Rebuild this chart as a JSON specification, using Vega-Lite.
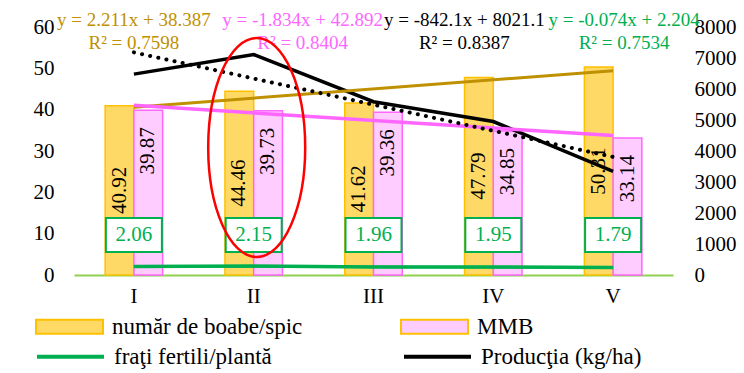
{
  "$schema": "https://vega.github.io/schema/vega-lite/v6.json",
  "width": 599,
  "height": 248,
  "autosize": "none",
  "padding": {"left": 74, "top": 27, "right": 71, "bottom": 98},
  "background": "white",
  "config": {
    "font": "Liberation Serif",
    "view": {"stroke": null},
    "mark": {"font": "Liberation Serif"},
    "text": {"font": "Liberation Serif"},
    "legend": {"labelFont": "Liberation Serif"},
    "axis": {"grid": false, "ticks": false, "title": null, "labelFont": "Liberation Serif", "labelFontSize": 21, "labelColor": "#000000"}
  },
  "datasets": {
    "bare": [
      {"perioada": "I", "nr": 1, "serie": "număr de boabe/spic", "valoare": 40.92},
      {"perioada": "I", "nr": 1, "serie": "MMB", "valoare": 39.87},
      {"perioada": "II", "nr": 2, "serie": "număr de boabe/spic", "valoare": 44.46},
      {"perioada": "II", "nr": 2, "serie": "MMB", "valoare": 39.73},
      {"perioada": "III", "nr": 3, "serie": "număr de boabe/spic", "valoare": 41.62},
      {"perioada": "III", "nr": 3, "serie": "MMB", "valoare": 39.36},
      {"perioada": "IV", "nr": 4, "serie": "număr de boabe/spic", "valoare": 47.79},
      {"perioada": "IV", "nr": 4, "serie": "MMB", "valoare": 34.85},
      {"perioada": "V", "nr": 5, "serie": "număr de boabe/spic", "valoare": 50.31},
      {"perioada": "V", "nr": 5, "serie": "MMB", "valoare": 33.14}
    ],
    "linii": [
      {"perioada": "I", "nr": 1, "frati": 2.06, "productie": 6480},
      {"perioada": "II", "nr": 2, "frati": 2.15, "productie": 7110},
      {"perioada": "III", "nr": 3, "frati": 1.96, "productie": 5590},
      {"perioada": "IV", "nr": 4, "frati": 1.95, "productie": 4950},
      {"perioada": "V", "nr": 5, "frati": 1.79, "productie": 3345}
    ],
    "ecuatii": [
      {"serie": "boabe", "eticheta": "y = 2.211x + 38.387\nR² = 0.7598"},
      {"serie": "MMB", "eticheta": "y = -1.834x + 42.892\nR² = 0.8404"},
      {"serie": "productie", "eticheta": "y = -842.1x + 8021.1\nR² = 0.8387"},
      {"serie": "frati", "eticheta": "y = -0.074x + 2.204\nR² = 0.7534"}
    ]
  },
  "resolve": {"scale": {"x": "independent", "y": "independent"}},
  "layer": [
    {
      "data": {"name": "bare"},
      "mark": {"type": "bar", "strokeWidth": 1.5},
      "encoding": {
        "x": {"field": "perioada", "type": "nominal",
              "scale": {"domain": ["I", "II", "III", "IV", "V"], "paddingInner": 0.52, "paddingOuter": 0.26},
              "axis": {"labelAngle": 0, "domainColor": "#92D050", "domainWidth": 2, "labelPadding": 10}},
        "xOffset": {"field": "serie", "type": "nominal", "scale": {"domain": ["număr de boabe/spic", "MMB"]}},
        "y": {"field": "valoare", "type": "quantitative",
              "scale": {"domain": [0, 60], "nice": false},
              "axis": {"orient": "left", "domain": false, "values": [0, 10, 20, 30, 40, 50, 60], "labelPadding": 20}},
        "fill": {"field": "serie", "type": "nominal",
                 "scale": {"domain": ["număr de boabe/spic", "MMB"], "range": ["#FFD966", "#FFCCFF"]},
                 "legend": {"title": null, "orient": "none", "legendX": -39, "legendY": 265, "direction": "horizontal", "columns": 2, "columnPadding": 94,
                            "symbolType": "M-1,-0.21H1V0.21H-1Z", "symbolSize": 4489, "symbolStrokeWidth": 2, "symbolOpacity": 1,
                            "labelFont": "Liberation Serif", "labelFontSize": 23, "labelColor": "#000000", "labelOffset": 8, "labelLimit": 400, "padding": 0,
                            "encode": {"symbols": {"update": {"stroke": {"signal": "datum.value === 'MMB' ? '#FF66FF' : '#FFC000'"}, "fillOpacity": {"value": 1}}}}}},
        "stroke": {"condition": {"test": "datum.serie === 'MMB'", "value": "#FF66FF"}, "value": "#FFC000"}
      }
    },
    {
      "data": {"name": "bare"},
      "transform": [{"filter": "datum.serie === 'număr de boabe/spic'"}],
      "mark": {"type": "text", "font": "Liberation Serif", "angle": 270, "align": "center", "baseline": "middle", "dy": -14.4, "fontSize": 21, "color": "#000000"},
      "encoding": {
        "x": {"field": "perioada", "type": "nominal", "scale": {"domain": ["I", "II", "III", "IV", "V"]}, "axis": null},
        "y": {"field": "valoare", "type": "quantitative", "scale": {"domain": [0, 120], "nice": false}, "axis": null},
        "text": {"field": "valoare", "type": "quantitative", "format": ".2f"}
      }
    },
    {
      "data": {"name": "bare"},
      "transform": [{"filter": "datum.serie === 'MMB'"}],
      "mark": {"type": "text", "font": "Liberation Serif", "angle": 270, "align": "right", "baseline": "middle", "dx": -17, "dy": 14.4, "fontSize": 21, "color": "#000000"},
      "encoding": {
        "x": {"field": "perioada", "type": "nominal", "scale": {"domain": ["I", "II", "III", "IV", "V"]}, "axis": null},
        "y": {"field": "valoare", "type": "quantitative", "scale": {"domain": [0, 60], "nice": false}, "axis": null},
        "text": {"field": "valoare", "type": "quantitative", "format": ".2f"}
      }
    },
    {
      "data": {"name": "linii"},
      "mark": {"type": "line", "strokeWidth": 3.5},
      "encoding": {
        "x": {"field": "perioada", "type": "nominal", "scale": {"domain": ["I", "II", "III", "IV", "V"]}, "axis": null},
        "y": {"field": "frati", "type": "quantitative", "scale": {"domain": [0, 60], "nice": false}, "axis": null},
        "stroke": {"datum": "fraţi fertili/plantă", "type": "nominal",
                   "scale": {"domain": ["fraţi fertili/plantă", "Producţia (kg/ha)"], "range": ["#00B050", "#000000"]},
                   "legend": {"title": null, "orient": "none", "legendX": -39, "legendY": 294, "direction": "horizontal", "columns": 2, "columnPadding": 124,
                              "symbolType": "M-1,0H1", "symbolSize": 4489, "symbolStrokeWidth": 4,
                              "labelFont": "Liberation Serif", "labelFontSize": 23, "labelColor": "#000000", "labelOffset": 8, "labelLimit": 400, "padding": 0}}
      }
    },
    {
      "data": {"name": "linii"},
      "mark": {"type": "line", "strokeWidth": 3.5},
      "encoding": {
        "x": {"field": "perioada", "type": "nominal", "scale": {"domain": ["I", "II", "III", "IV", "V"]}, "axis": null},
        "y": {"field": "productie", "type": "quantitative", "scale": {"domain": [0, 8000], "nice": false},
              "axis": {"orient": "right", "domain": false, "values": [0, 1000, 2000, 3000, 4000, 5000, 6000, 7000, 8000], "format": "d", "labelPadding": 21}},
        "stroke": {"datum": "Producţia (kg/ha)", "type": "nominal"}
      }
    },
    {
      "data": {"name": "bare"},
      "transform": [{"filter": "datum.serie === 'număr de boabe/spic'"}, {"regression": "valoare", "on": "nr"}],
      "mark": {"type": "line", "strokeWidth": 3, "color": "#BF9000"},
      "encoding": {
        "x": {"field": "nr", "type": "quantitative", "scale": {"domain": [0.5, 5.5], "nice": false, "zero": false}, "axis": null},
        "y": {"field": "valoare", "type": "quantitative", "scale": {"domain": [0, 60], "nice": false}, "axis": null}
      }
    },
    {
      "data": {"name": "bare"},
      "transform": [{"filter": "datum.serie === 'MMB'"}, {"regression": "valoare", "on": "nr"}],
      "mark": {"type": "line", "strokeWidth": 3.5, "color": "#FF66FF"},
      "encoding": {
        "x": {"field": "nr", "type": "quantitative", "scale": {"domain": [0.5, 5.5], "nice": false, "zero": false}, "axis": null},
        "y": {"field": "valoare", "type": "quantitative", "scale": {"domain": [0, 60], "nice": false}, "axis": null}
      }
    },
    {
      "data": {"name": "linii"},
      "transform": [{"regression": "frati", "on": "nr"}],
      "mark": {"type": "line", "strokeWidth": 2.5, "color": "#00B050"},
      "encoding": {
        "x": {"field": "nr", "type": "quantitative", "scale": {"domain": [0.5, 5.5], "nice": false, "zero": false}, "axis": null},
        "y": {"field": "frati", "type": "quantitative", "scale": {"domain": [0, 60], "nice": false}, "axis": null}
      }
    },
    {
      "data": {"name": "linii"},
      "transform": [{"regression": "productie", "on": "nr"}],
      "mark": {"type": "line", "strokeWidth": 4, "color": "#000000", "strokeDash": [0.1, 8.2], "strokeCap": "round"},
      "encoding": {
        "x": {"field": "nr", "type": "quantitative", "scale": {"domain": [0.5, 5.5], "nice": false, "zero": false}, "axis": null},
        "y": {"field": "productie", "type": "quantitative", "scale": {"domain": [0, 8000], "nice": false}, "axis": null}
      }
    },
    {
      "data": {"name": "linii"},
      "mark": {"type": "point", "shape": "M-1,-0.607H1V0.607H-1Z", "size": 3136, "filled": true, "fill": "#FFFFFF", "stroke": "#00B050", "strokeWidth": 2, "opacity": 1},
      "encoding": {
        "x": {"field": "perioada", "type": "nominal", "scale": {"domain": ["I", "II", "III", "IV", "V"]}, "axis": null},
        "y": {"datum": 9.7, "type": "quantitative", "scale": {"domain": [0, 60], "nice": false}, "axis": null}
      }
    },
    {
      "data": {"name": "linii"},
      "mark": {"type": "text", "font": "Liberation Serif", "align": "center", "baseline": "middle", "fontSize": 21, "color": "#00B050"},
      "encoding": {
        "x": {"field": "perioada", "type": "nominal", "scale": {"domain": ["I", "II", "III", "IV", "V"]}, "axis": null},
        "y": {"datum": 9.7, "type": "quantitative", "scale": {"domain": [0, 60], "nice": false}, "axis": null},
        "text": {"field": "frati", "type": "quantitative", "format": ".2f"}
      }
    },
    {
      "data": {"name": "ecuatii"},
      "transform": [{"filter": "datum.serie === 'boabe'"}],
      "mark": {"type": "text", "font": "Liberation Serif", "align": "center", "baseline": "alphabetic", "lineBreak": "\n", "lineHeight": 23, "fontSize": 19, "color": "#BF9000", "dx": 0, "dy": -1},
      "encoding": {
        "x": {"datum": "I", "type": "nominal", "scale": {"domain": ["I", "II", "III", "IV", "V"]}, "axis": null},
        "y": {"datum": 60, "type": "quantitative", "scale": {"domain": [0, 60], "nice": false}, "axis": null},
        "text": {"field": "eticheta", "type": "nominal"}
      }
    },
    {
      "data": {"name": "ecuatii"},
      "transform": [{"filter": "datum.serie === 'MMB'"}],
      "mark": {"type": "text", "font": "Liberation Serif", "align": "center", "baseline": "alphabetic", "lineBreak": "\n", "lineHeight": 23, "fontSize": 19, "color": "#FF66FF", "dx": 49, "dy": -1},
      "encoding": {
        "x": {"datum": "II", "type": "nominal", "scale": {"domain": ["I", "II", "III", "IV", "V"]}, "axis": null},
        "y": {"datum": 60, "type": "quantitative", "scale": {"domain": [0, 60], "nice": false}, "axis": null},
        "text": {"field": "eticheta", "type": "nominal"}
      }
    },
    {
      "data": {"name": "ecuatii"},
      "transform": [{"filter": "datum.serie === 'productie'"}],
      "mark": {"type": "text", "font": "Liberation Serif", "align": "center", "baseline": "alphabetic", "lineBreak": "\n", "lineHeight": 23, "fontSize": 19, "color": "#000000", "dx": -29, "dy": -1},
      "encoding": {
        "x": {"datum": "IV", "type": "nominal", "scale": {"domain": ["I", "II", "III", "IV", "V"]}, "axis": null},
        "y": {"datum": 60, "type": "quantitative", "scale": {"domain": [0, 60], "nice": false}, "axis": null},
        "text": {"field": "eticheta", "type": "nominal"}
      }
    },
    {
      "data": {"name": "ecuatii"},
      "transform": [{"filter": "datum.serie === 'frati'"}],
      "mark": {"type": "text", "font": "Liberation Serif", "align": "center", "baseline": "alphabetic", "lineBreak": "\n", "lineHeight": 23, "fontSize": 19, "color": "#00B050", "dx": 11, "dy": -1},
      "encoding": {
        "x": {"datum": "V", "type": "nominal", "scale": {"domain": ["I", "II", "III", "IV", "V"]}, "axis": null},
        "y": {"datum": 60, "type": "quantitative", "scale": {"domain": [0, 60], "nice": false}, "axis": null},
        "text": {"field": "eticheta", "type": "nominal"}
      }
    },
    {
      "data": {"name": "linii"},
      "transform": [{"filter": "datum.perioada === 'II'"}],
      "mark": {"type": "point", "shape": "M0,-1A0.443,1 0 1,1 0,1A0.443,1 0 1,1 0,-1Z", "size": 47961, "filled": false, "stroke": "#FF0000", "strokeWidth": 2.5, "opacity": 1, "xOffset": 3},
      "encoding": {
        "x": {"field": "perioada", "type": "nominal", "scale": {"domain": ["I", "II", "III", "IV", "V"]}, "axis": null},
        "y": {"datum": 30.85, "type": "quantitative", "scale": {"domain": [0, 60], "nice": false}, "axis": null}
      }
    }
  ]
}
